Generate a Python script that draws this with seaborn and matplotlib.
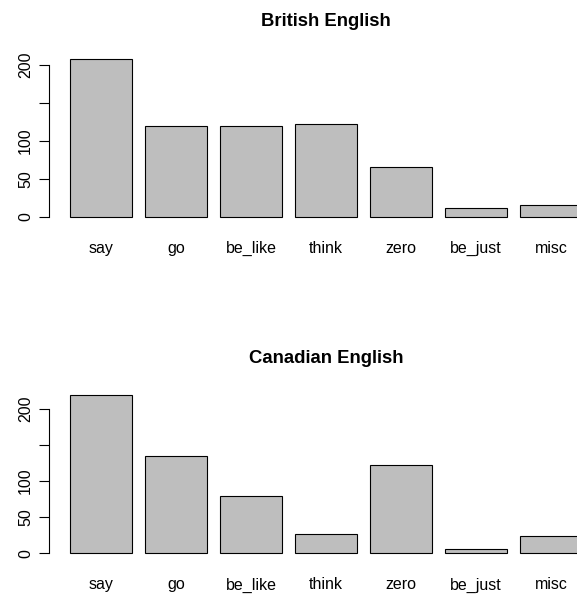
import numpy as np
import matplotlib
matplotlib.use("Agg")
import matplotlib.pyplot as plt
import seaborn as sns

# quotative counts
categories = ["say", "go", "be_like", "think", "zero", "be_just", "misc"]
british = [208, 120, 120, 122, 66, 11, 16]
canadian = [219, 135, 79, 27, 123, 6, 24]
titles = ["British English", "Canadian English"]
yticks = [0, 50, 100, 150, 200]
yticklabels = ["0", "50", "100", "", "200"]

sns.set_style("white")
plt.rcParams["font.family"] = ["Liberation Sans", "DejaVu Sans"]
plt.rcParams["text.color"] = "black"
plt.rcParams["xtick.labelcolor"] = "black"
plt.rcParams["ytick.labelcolor"] = "black"

W, H = 577, 594
fig = plt.figure(figsize=(W / 100, H / 100), dpi=100)

# axes boxes in pixels: left, top, right, bottom (right edge runs past the figure as in the original)
boxes = [(49, 52.6, 603, 223.0), (49, 388.9, 603, 559.6)]

for vals, title, (l, t, r, b) in zip([british, canadian], titles, boxes):
    ax = fig.add_axes([l / W, 1 - b / H, (r - l) / W, (b - t) / H])
    sns.barplot(x=categories, y=vals, color="#bebebe", saturation=1,
                edgecolor="black", linewidth=0.8, width=1 / 1.2, ax=ax)
    top = max(vals)
    ax.set_ylim(-0.04 * top, 1.04 * top)
    ax.set_xlim(-0.69, 6.69)
    ax.set_xlabel("")
    ax.set_ylabel("")
    for s in ["top", "right", "bottom"]:
        ax.spines[s].set_visible(False)
    ax.spines["left"].set_bounds(0, 200)
    ax.spines["left"].set_color("black")
    ax.spines["left"].set_linewidth(0.8)
    ax.set_yticks(yticks)
    ax.set_yticklabels(yticklabels, rotation=90, va="center")
    ax.tick_params(axis="y", left=True, length=7.5, width=0.8, color="black",
                   pad=4, labelsize=11.5)
    ax.tick_params(axis="x", bottom=False, length=0, pad=21.5, labelsize=11.5)
    for lab in ax.get_xticklabels():
        lab.set_va("baseline")
    ax.set_title(title, fontsize=13.3, fontweight="bold", pad=19)

fig.savefig("out.png", dpi=100)
